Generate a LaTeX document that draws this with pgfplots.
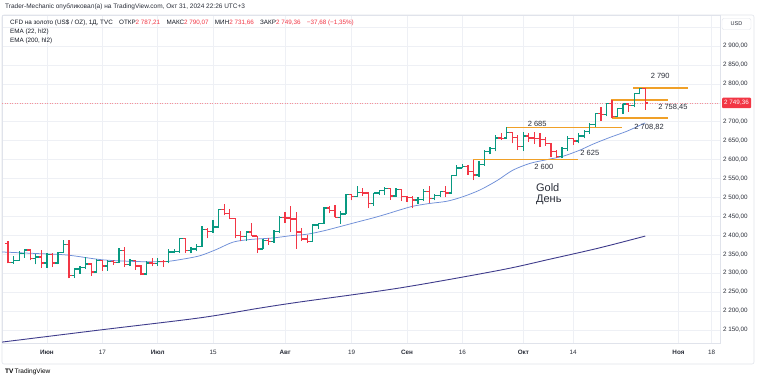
\documentclass[border=0pt]{standalone}
\usepackage{fontspec}
\setmainfont{Liberation Sans}
\usepackage{pgfplots}
\pgfplotsset{compat=1.18}
\usepackage{pgfplotstable}
\definecolor{upc}{HTML}{089981}
\definecolor{dnc}{HTML}{F23645}
\definecolor{emaA}{HTML}{6F8FD8}
\definecolor{emaB}{HTML}{3F3C8C}
\definecolor{lvlc}{RGB}{240,160,40}
\definecolor{gridc}{HTML}{EEF0F5}
\definecolor{txt}{HTML}{131722}
\definecolor{axt}{HTML}{2A2E39}
\definecolor{framec}{HTML}{E0E3EB}
\newcommand\sm{\fontsize{6.3}{7.5}\selectfont}

\pgfplotstableread{
x o h l c
-10 2329 2345 2325 2334
-9 2334 2358 2333 2351
-8 2351 2364 2341 2361
-6 2338 2351 2323 2343
-4 2327 2354 2314 2350
-2 2327 2357 2323 2355
-1 2355 2388 2353 2376
1 2294 2314 2287 2311
2 2311 2318 2298 2316
3 2316 2342 2311 2324
5 2303 2338 2302 2333
7 2319 2335 2307 2330
9 2329 2366 2326 2360
11 2322 2337 2319 2334
14 2298 2331 2294 2327
16 2326 2339 2319 2331
18 2330 2365 2326 2356
19 2356 2364 2352 2357
20 2357 2392 2353 2392
22 2359 2370 2352 2364
23 2364 2378 2358 2371
24 2371 2424 2370 2415
26 2411 2440 2407 2422
27 2422 2469 2421 2469
32 2396 2412 2385 2409
35 2364 2390 2363 2387
37 2384 2413 2381 2411
38 2411 2451 2406 2447
44 2383 2431 2382 2427
45 2427 2432 2418 2431
46 2431 2475 2430 2472
49 2447 2464 2431 2456
50 2456 2509 2455 2507
52 2503 2531 2500 2514
55 2484 2512 2478 2512
56 2512 2520 2506 2518
57 2518 2527 2506 2524
59 2504 2524 2502 2521
63 2493 2500 2483 2495
64 2495 2523 2491 2516
66 2497 2508 2492 2506
67 2506 2517 2500 2516
69 2512 2560 2510 2558
70 2558 2586 2556 2578
71 2578 2589 2577 2582
74 2559 2597 2555 2587
75 2587 2625 2584 2622
76 2622 2634 2614 2629
77 2629 2664 2622 2657
79 2657 2685 2655 2672
82 2634 2673 2624 2662
89 2608 2632 2603 2630
90 2630 2662 2624 2656
92 2649 2669 2643 2662
93 2662 2678 2656 2674
94 2674 2697 2668 2692
95 2692 2722 2686 2721
97 2720 2749 2714 2748
99 2714 2737 2714 2735
100 2735 2748 2721 2747
102 2743 2775 2738 2774
103 2774 2790 2772 2787
}\upbars

\pgfplotstableread{
x o h l c
-11 2378 2385 2326 2329
-7 2361 2364 2334 2338
-5 2343 2360 2314 2327
-3 2350 2352 2316 2327
0 2376 2388 2286 2294
4 2324 2327 2293 2303
6 2333 2334 2306 2319
8 2330 2336 2322 2329
10 2360 2369 2316 2322
12 2334 2335 2309 2319
13 2319 2321 2294 2298
15 2327 2340 2318 2326
17 2331 2335 2316 2330
21 2392 2393 2353 2359
25 2415 2419 2392 2411
28 2469 2483 2453 2458
29 2458 2470 2443 2445
30 2445 2445 2392 2400
31 2400 2412 2384 2396
33 2409 2432 2398 2398
34 2398 2398 2353 2364
36 2387 2392 2375 2384
39 2447 2462 2432 2446
40 2446 2477 2410 2443
41 2443 2461 2364 2409
42 2409 2420 2385 2390
43 2390 2401 2381 2383
47 2472 2477 2458 2465
48 2465 2479 2448 2447
51 2507 2510 2492 2503
53 2514 2526 2504 2512
54 2512 2514 2471 2484
58 2524 2525 2494 2504
60 2521 2523 2490 2503
61 2503 2505 2489 2500
62 2500 2503 2472 2493
65 2516 2529 2485 2497
68 2516 2529 2500 2512
72 2582 2585 2560 2569
73 2569 2600 2546 2559
78 2657 2670 2652 2656
80 2672 2674 2643 2658
81 2658 2665 2625 2634
83 2662 2671 2646 2657
84 2657 2672 2642 2656
85 2656 2670 2634 2653
86 2653 2660 2636 2643
87 2643 2645 2606 2622
88 2622 2625 2605 2608
91 2656 2658 2638 2649
96 2721 2740 2703 2720
98 2748 2758.45 2708.82 2714
101 2747 2748 2727 2743
104 2787.21 2790.07 2731.66 2749.36
}\dnbars

\pgfplotstableread{
x y
101.8 2790
111.7 2790
nan nan
97.8 2758.45
108.1 2758.45
nan nan
98 2708.82
108.1 2708.82
nan nan
79 2685
99.8 2685
nan nan
73 2600
91.9 2600
}\levels

\pgfplotsset{
  ohlcv/.style={draw=none, mark=none, forget plot, error bars/.cd, y dir=plus, y explicit, error mark=none, error bar style={draw=#1, line width=1.25pt}},
  ohlco/.style={draw=none, mark=none, forget plot, error bars/.cd, x dir=minus, x fixed=0.5, error mark=none, error bar style={draw=#1, line width=1.25pt}},
  ohlcc/.style={draw=none, mark=none, forget plot, error bars/.cd, x dir=plus, x fixed=0.5, error mark=none, error bar style={draw=#1, line width=1.25pt}},
}

\begin{document}
\begin{tikzpicture}
\useasboundingbox (0pt,0pt) rectangle (758pt,381pt);
\fill[white] (0pt,0pt) rectangle (758pt,381pt);
\draw[framec, line width=0.6pt, rounded corners=2pt] (2pt,17pt) rectangle (754pt,366pt);
\begin{axis}[
  name=ax,
  at={(2pt,38pt)}, anchor=south west, scale only axis,
  width=718pt, height=328pt,
  xmin=-12.1, xmax=117.5, ymin=2115.6, ymax=2981.9,
  axis line style={framec, line width=0.6pt},
  major tick length=0pt,
  xtick={-4,6,16,26,39,51,61,71,82,91,110,116},
  xticklabels={\textbf{Июн},17,\textbf{Июл},15,\textbf{Авг},19,\textbf{Сен},16,\textbf{Окт},14,\textbf{Ноя},18},
  ytick={2150,2200,2250,2300,2350,2400,2450,2500,2550,2600,2650,2700,2750,2800,2850,2900,2950},
  yticklabels={{2 150,00},{2 200,00},{2 250,00},{2 300,00},{2 350,00},{2 400,00},{2 450,00},{2 500,00},{2 550,00},{2 600,00},{2 650,00},{2 700,00},{},{2 800,00},{2 850,00},{2 900,00},{}},
  yticklabel pos=right,
  grid=major, major grid style={gridc, line width=0.6pt},
  tick label style={font=\sm, text=axt},
  xticklabel style={anchor=base, yshift=-11pt},
  yticklabel style={anchor=west, inner sep=0pt, xshift=3pt},
  unbounded coords=jump,
]
% current price dotted line
\addplot[dnc!55, line width=0.5pt, dash pattern=on 1pt off 1.5pt, forget plot] coordinates {(-12.1,2749.36) (117.5,2749.36)};
% EMA 200
\addplot[emaB, line width=0.9pt, smooth, forget plot] coordinates {
(-12.1,2118) (5.6,2150) (23.6,2182) (34.5,2208) (41.7,2224) (59.7,2261) (77.8,2308) (86.8,2337) (95.8,2367) (104,2398)};
% EMA 22
\addplot[emaA, line width=0.75pt, smooth, forget plot] coordinates {
(-12.1,2356) (-6,2352) (-0.4,2348) (5.6,2336) (10,2332) (14.6,2330) (17.7,2331) (20.5,2337) (23.6,2346) (26.5,2362) (29.6,2382) (32.7,2389) (36.8,2393) (40,2399) (43,2403) (46,2412) (48.9,2423) (52,2435) (54.9,2446) (57.5,2457) (59.7,2467) (62.1,2477) (65,2484) (68.2,2490) (71.1,2502) (74.2,2520) (77.3,2545) (80.1,2572) (83.2,2590) (86.3,2600) (89.2,2609) (92.2,2625) (94.6,2641) (97.7,2659) (100.7,2675) (104,2697)};
% level lines
\addplot[color=lvlc, solid, line width=1.8pt, mark=none, forget plot] table[x=x, y=y] {\levels};
% OHLC up
\addplot[ohlcv=upc] table[x=x, y=l, y error expr=\thisrow{h}-\thisrow{l}] {\upbars};
\addplot[ohlco=upc] table[x=x, y=o] {\upbars};
\addplot[ohlcc=upc] table[x=x, y=c] {\upbars};
% OHLC down
\addplot[ohlcv=dnc] table[x=x, y=l, y error expr=\thisrow{h}-\thisrow{l}] {\dnbars};
\addplot[ohlco=dnc] table[x=x, y=o] {\dnbars};
\addplot[ohlcc=dnc] table[x=x, y=c] {\dnbars};
% annotations
\node[font=\fontsize{7.5}{9}\selectfont, text=axt] at (axis cs:106.7,2820) {2 790};
\node[font=\fontsize{7.5}{9}\selectfont, text=axt] at (axis cs:109.0,2739) {2 758,45};
\node[font=\fontsize{7.5}{9}\selectfont, text=axt] at (axis cs:104.7,2686) {2 708,82};
\node[font=\fontsize{7.5}{9}\selectfont, text=axt] at (axis cs:84.5,2694) {2 685};
\node[font=\fontsize{7.5}{9}\selectfont, text=axt] at (axis cs:85.7,2580) {2 600};
\node[font=\fontsize{7.5}{9}\selectfont, text=axt] at (axis cs:94,2617) {2 625};
\node[font=\fontsize{11}{12}\selectfont, text=axt] at (axis cs:86.4,2527) {Gold};
\node[font=\fontsize{11}{12}\selectfont, text=axt] at (axis cs:86.6,2495) {День};
\end{axis}
% price scale extras
\node[fill=dnc, rounded corners=1pt, text=white, font=\sm, minimum width=29pt, minimum height=10.5pt, inner sep=0pt] at (736.5pt,278pt) {2 749,36};
\node[draw=framec, rounded corners=2pt, text=axt, font=\fontsize{5.5}{6}\selectfont, minimum width=29pt, minimum height=11pt, inner sep=0pt] at (736.5pt,357pt) {USD};
% header and legend
\node[anchor=west, inner sep=0pt, text=axt, font=\fontsize{6.5}{7.5}\selectfont] at (5pt,374pt) {Trader-Mechanic опубликовал(а) на TradingView.com, Окт 31, 2024 22:26 UTC+3};
\node[anchor=west, inner sep=0pt, text=txt, font=\sm] at (10pt,358pt) {CFD на золото (US\$ / OZ), 1Д, TVC\quad ОТКР\textcolor{dnc}{2 787,21}\quad МАКС\textcolor{dnc}{2 790,07}\quad МИН\textcolor{dnc}{2 731,66}\quad ЗАКР\textcolor{dnc}{2 749,36}\quad\textcolor{dnc}{−37,68 (−1,35\%)}};
\node[anchor=west, inner sep=0pt, text=txt, font=\sm] at (10pt,349pt) {EMA (22, hl2)};
\node[anchor=west, inner sep=0pt, text=txt, font=\sm] at (10pt,340pt) {EMA (200, hl2)};
\node[anchor=west, inner sep=0pt, text=black, font=\fontsize{6.5}{7}\selectfont] at (5pt,9pt) {\textbf{TV}\,TradingView};
\end{tikzpicture}
\end{document}
